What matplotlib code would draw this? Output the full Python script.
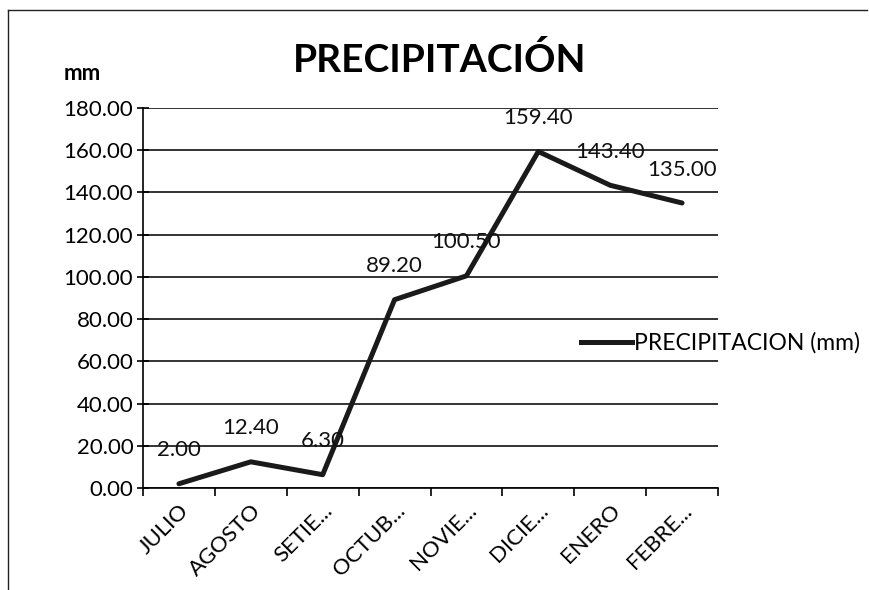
import matplotlib
matplotlib.use("Agg")
import matplotlib.pyplot as plt
from matplotlib.lines import Line2D
import numpy as np

months = ["JULIO", "AGOSTO", "SETIE...", "OCTUB...", "NOVIE...", "DICIE...", "ENERO", "FEBRE..."]
precip = [2.00, 12.40, 6.30, 89.20, 100.50, 159.40, 143.40, 135.00]
yticks = [0, 20, 40, 60, 80, 100, 120, 140, 160, 180]

plt.rcParams['font.family'] = ['Lato', 'DejaVu Sans']

fig = plt.figure(figsize=(8.69, 5.90), dpi=100)
ax = fig.add_axes([143/869, 1 - 488/590, 575/869, 380/590])

x = np.arange(len(months))
ax.plot(x, precip, color="#1a1a1a", lw=3.6, solid_capstyle="round",
        solid_joinstyle="round", zorder=3, label="PRECIPITACION (mm)")

for xi, v in zip(x, precip):
    ax.annotate(f"{v:.2f}", (xi, v), xytext=(0, 24), textcoords="offset points",
                ha="center", va="center", fontsize=16, color="#111111", zorder=4)

ax.set_xlim(-0.5, len(months) - 0.5)
ax.set_ylim(0, 180)
ax.set_yticks(yticks)
ax.set_yticklabels([f"{t:.2f}" for t in yticks], fontsize=16)
ax.yaxis.grid(True, color="#111111", lw=1.2)
ax.set_axisbelow(True)

ax.set_xticks(x)
ax.set_xticklabels(months, rotation=45, ha="right", rotation_mode="anchor", fontsize=16)
ax.set_xticks(np.arange(-0.5, len(months)), minor=True)
ax.tick_params(axis="x", which="major", length=0, pad=9)
ax.tick_params(axis="x", which="minor", length=6, width=1.2, direction="out")
ax.tick_params(axis="y", length=8, width=1.2, direction="inout", pad=3)

for side in ["top", "right"]:
    ax.spines[side].set_visible(False)
ax.spines["left"].set_linewidth(1.2)
ax.spines["bottom"].set_linewidth(1.2)

fig.text(440/869, 1 - 60/590, "PRECIPITACIÓN", ha="center", va="center",
         fontsize=28, fontweight="bold")
fig.text(82/869, 1 - 73/590, "mm", ha="center", va="center",
         fontsize=16, fontweight="bold")

handle = Line2D([], [], color="#1a1a1a", lw=3.6)
fig.legend([handle], ["PRECIPITACION (mm)"], loc="center left",
           bbox_to_anchor=(570/869, 1 - 343/590), frameon=False, fontsize=16.5,
           handlelength=2.2, handletextpad=0.1, borderpad=0)

# outer frame lines (top and left)
fig.add_artist(Line2D([8/869, 0.998], [1 - 10/590, 1 - 10/590], color="#222222", lw=1.0))
fig.add_artist(Line2D([8/869, 8/869], [0, 1 - 10/590], color="#222222", lw=1.0))

fig.savefig("out.png", dpi=100)
